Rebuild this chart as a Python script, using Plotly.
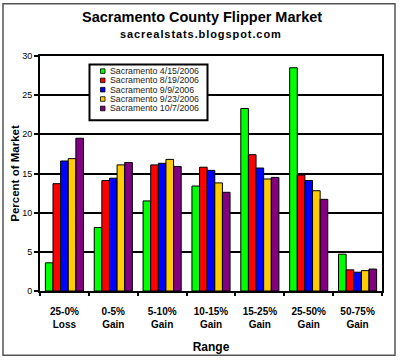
import plotly.graph_objects as go

categories = ["25-0%<br>Loss", "0-5%<br>Gain", "5-10%<br>Gain", "10-15%<br>Gain",
              "15-25%<br>Gain", "25-50%<br>Gain", "50-75%<br>Gain"]
series_names = ["Sacramento 4/15/2006", "Sacramento 8/19/2006", "Sacramento 9/9/2006",
                "Sacramento 9/23/2006", "Sacramento 10/7/2006"]
colors = ["#00FF00", "#FF0000", "#0000FF", "#FFCC00", "#800080"]
s_0415 = [3.6, 8.1, 11.5, 13.4, 23.3, 28.5, 4.7]
s_0819 = [13.7, 14.1, 16.1, 15.8, 17.4, 14.8, 2.7]
s_0909 = [16.6, 14.4, 16.3, 15.4, 15.7, 14.1, 2.4]
s_0923 = [16.9, 16.1, 16.8, 13.8, 14.3, 12.8, 2.6]
s_1007 = [19.5, 16.4, 15.9, 12.6, 14.5, 11.7, 2.8]
series = [s_0415, s_0819, s_0909, s_0923, s_1007]
yticks = [0, 5, 10, 15, 20, 25, 30]

FONT = "Arial, Liberation Sans, sans-serif"

fig = go.Figure()
for name, vals, col in zip(series_names, series, colors):
    fig.add_trace(go.Bar(x=categories, y=vals, name=name,
                         marker=dict(color=col, line=dict(color="black", width=1)),
                         showlegend=False))

# plot area in pixels
L, R, T, B = 40, 382, 55.5, 291.5
W, H = R - L, B - T
def px(x): return (x - L) / W
def py(y): return (B - y) / H

shapes = []
annotations = []
# outer frame
shapes.append(dict(type="rect", xref="paper", yref="paper",
                   x0=px(3), x1=px(395), y0=py(356), y1=py(3),
                   line=dict(color="#555555", width=1.5), layer="below"))
# legend box
shapes.append(dict(type="rect", xref="paper", yref="paper",
                   x0=px(89.5), x1=px(207.5), y0=py(120), y1=py(64),
                   line=dict(color="black", width=2), fillcolor="white", layer="above"))
rows = [70.7, 80.0, 89.3, 98.7, 108.2]
for name, col, ry in zip(series_names, colors, rows):
    shapes.append(dict(type="rect", xref="paper", yref="paper",
                       x0=px(100.5), x1=px(105), y0=py(ry + 2.3), y1=py(ry - 2.3),
                       line=dict(color="black", width=0.8), fillcolor=col, layer="above"))
    annotations.append(dict(text=name, xref="paper", yref="paper", x=px(108), y=py(ry),
                            xanchor="left", yanchor="middle", showarrow=False,
                            font=dict(family=FONT, size=8.8, color="#222222")))

annotations.append(dict(text="<b>Sacramento County Flipper Market</b>", xref="paper", yref="paper",
                        x=px(202), y=py(16), xanchor="center", yanchor="middle", showarrow=False,
                        font=dict(family=FONT, size=14.5, color="black")))
annotations.append(dict(text="<b>s a c r e a l s t a t s . b l o g s p o t . c o m</b>".replace(" ", "\u200a"),
                        xref="paper", yref="paper",
                        x=px(200), y=py(33.5), xanchor="center", yanchor="middle", showarrow=False,
                        font=dict(family=FONT, size=11, color="black")))

fig.update_layout(
    width=400, height=361,
    margin=dict(l=L, r=400 - R, t=T, b=361 - B, autoexpand=False),
    paper_bgcolor="white", plot_bgcolor="white",
    barmode="group", bargap=0.22, bargroupgap=0,
    font=dict(family=FONT, color="black"),
    shapes=shapes, annotations=annotations,
    xaxis=dict(showline=True, linecolor="black", linewidth=2, mirror=True,
               ticks="outside", tickson="boundaries", ticklen=3, tickwidth=2, tickcolor="black",
               tickfont=dict(family=FONT, size=10, color="black"),
               tickprefix="<b>", ticksuffix="</b>", ticklabelstandoff=10,
               title=dict(text="<b>Range</b>", font=dict(family=FONT, size=12, color="black"), standoff=14),
               automargin=False),
    yaxis=dict(range=[0, 30], tickvals=yticks, showline=True, linecolor="black", linewidth=2,
               mirror=True, showgrid=True, gridcolor="black", gridwidth=2, zeroline=False,
               ticks="outside", ticklen=4, tickwidth=2, tickcolor="black",
               tickfont=dict(family=FONT, size=9, color="black"), tickprefix="<b>", ticksuffix="</b>",
               title=dict(text="<b>Percent of Market</b>", font=dict(family=FONT, size=11.5, color="black"),
                          standoff=0),
               automargin=False),
)
fig.write_html("out.html", config={"displayModeBar": False},
               post_script="document.body.style.margin='0';document.body.style.padding='0';")
